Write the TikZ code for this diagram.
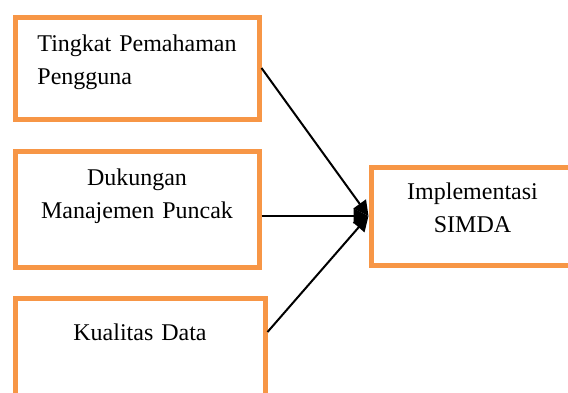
\documentclass[tikz,border=0pt]{standalone}
\usepackage{fontspec}
\setmainfont{Liberation Serif}
\usepackage{tikz}
\usetikzlibrary{arrows.meta}
\usepackage{xcolor}
\definecolor{boxorange}{RGB}{247,150,70}

\begin{document}
\begin{tikzpicture}[x=0.5pt, y=-0.5pt, >={Triangle[length=7.5pt, width=7.5pt]},
    varbox/.style={draw=boxorange, line width=2.5pt, inner sep=0pt, anchor=north west,
        font=\fontsize{12}{16.25}\selectfont}]
    \useasboundingbox (0,0) rectangle (568,392);

    \node[varbox, align=left, inner xsep=11.25pt, text width=99.5pt,
        text height=17.25pt, text depth=33.75pt] (b1) at (12.5,14.5)
        {\mbox{Tingkat Pemahaman}\\Pengguna};
    \node[varbox, align=center, text width=122pt,
        text height=17.25pt, text depth=40.75pt] (b2) at (12.5,148.5)
        {Dukungan\\Manajemen Puncak};
    \node[varbox, align=center, text width=125pt,
        text height=21pt, text depth=35pt] (b3) at (12.5,296)
        {Kualitas Data};
    \node[varbox, align=center, text width=101.5pt,
        text height=16.25pt, text depth=32.75pt] (b4) at (368.5,164.5)
        {Implementasi\\SIMDA};

    \path[->, line width=1pt]
        (b1.east) edge (b4.west)
        (b2.east |- b4.west) edge (b4.west)
        (b3.10) edge (b4.west);
\end{tikzpicture}
\end{document}
